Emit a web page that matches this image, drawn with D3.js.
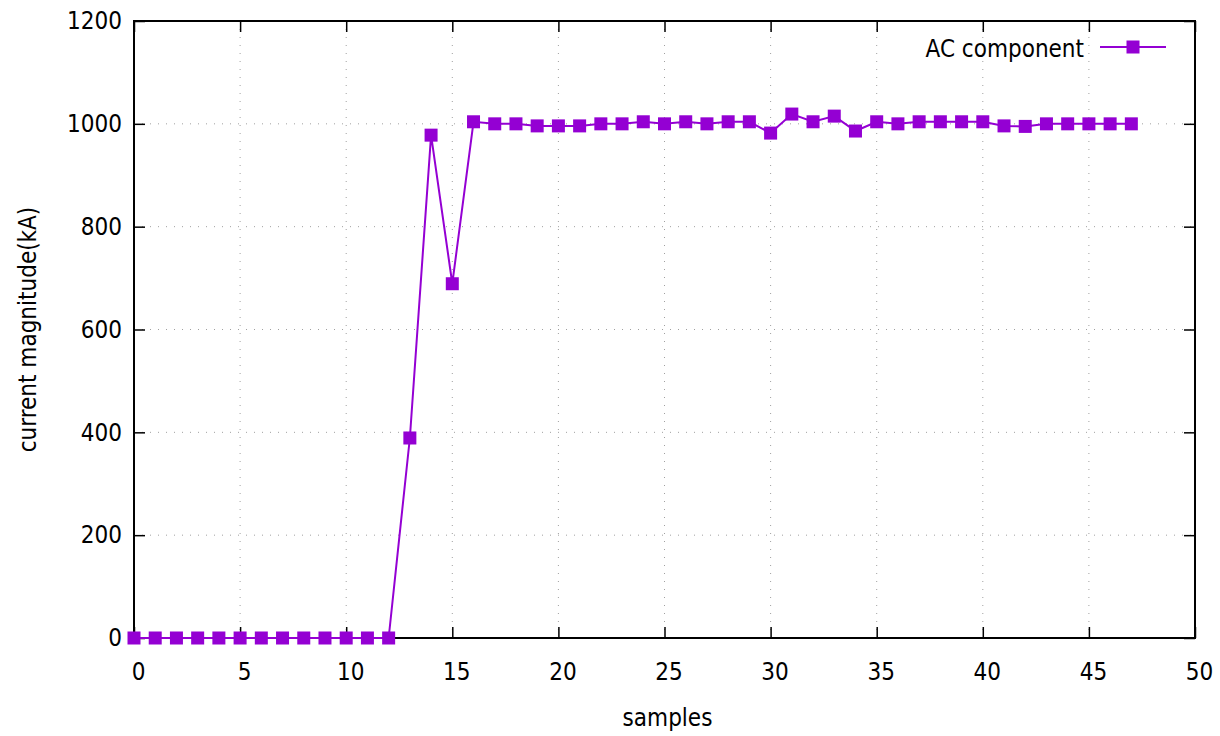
<!DOCTYPE html>
<html>
<head>
<meta charset="utf-8">
<script src="https://cdn.jsdelivr.net/npm/d3@7"></script>
<style>
  html, body { margin: 0; padding: 0; background: #fff; }
  svg { display: block; }
  text { font-family: "DejaVu Sans Condensed", "DejaVu Sans", sans-serif; fill: #000; }
</style>
</head>
<body>
<svg id="chart" width="1220" height="736"></svg>
<script>
// AC component magnitude per sample
const samples = d3.range(0, 48);
const acValues = [
  0, 0, 0, 0, 0, 0, 0, 0, 0, 0, 0, 0, 0,
  389, 978, 689, 1004,
  1000, 1000, 996, 996, 996, 1000, 1000, 1004, 1000, 1004, 1000, 1004, 1004,
  982, 1019, 1004, 1015, 986, 1004, 1000, 1004, 1004, 1004, 1004,
  996, 995, 1000, 1000, 1000, 1000, 1000
];
const xTicks = [0, 5, 10, 15, 20, 25, 30, 35, 40, 45, 50];
const yTicks = [0, 200, 400, 600, 800, 1000, 1200];
const seriesName = "AC component";
const xTitle = "samples";
const yTitle = "current magnitude(kA)";

const color = "#9400d3";
const fontSize = 24;
const svg = d3.select("#chart");
const m = { left: 134, right: 1195, top: 21, bottom: 638 };

const x = d3.scaleLinear().domain([0, 50]).range([m.left, m.right]);
const y = d3.scaleLinear().domain([0, 1200]).range([m.bottom, m.top]);

// dotted grid
const grid = svg.append("g").attr("stroke", "#a0a0a0").attr("stroke-width", 1)
  .attr("stroke-dasharray", "1,7");
xTicks.slice(1, -1).forEach(t => {
  grid.append("line").attr("x1", x(t)).attr("x2", x(t))
    .attr("y1", m.bottom).attr("y2", m.top);
});
yTicks.slice(1, -1).forEach(t => {
  grid.append("line").attr("x1", m.left).attr("x2", m.right)
    .attr("y1", y(t)).attr("y2", y(t));
});

// inward ticks on all four sides
const tickLen = 11;
const fmt = d3.format("d");
const axB = d3.axisBottom(x).tickValues(xTicks).tickFormat(fmt).tickSizeInner(-tickLen).tickSizeOuter(0).tickPadding(25);
const axT = d3.axisTop(x).tickValues(xTicks).tickSizeInner(-tickLen).tickSizeOuter(0).tickFormat("");
const axL = d3.axisLeft(y).tickValues(yTicks).tickFormat(fmt).tickSizeInner(-tickLen).tickSizeOuter(0).tickPadding(12);
const axR = d3.axisRight(y).tickValues(yTicks).tickSizeInner(-tickLen).tickSizeOuter(0).tickFormat("");

function styleAxis(g) {
  g.select(".domain").remove();
  g.selectAll(".tick line").attr("stroke", "#000").attr("stroke-width", 1.5);
  g.selectAll(".tick text").attr("font-size", fontSize)
    .style("font-family", '"DejaVu Sans Condensed", "DejaVu Sans", sans-serif');
}
svg.append("g").attr("transform", `translate(0,${m.bottom})`).call(axB).call(styleAxis)
  .selectAll(".tick text").attr("dx", 4);
svg.append("g").attr("transform", `translate(0,${m.top})`).call(axT).call(styleAxis);
svg.append("g").attr("transform", `translate(${m.left},0)`).call(axL).call(styleAxis);
svg.append("g").attr("transform", `translate(${m.right},0)`).call(axR).call(styleAxis);

// frame
svg.append("rect").attr("x", m.left).attr("y", m.top)
  .attr("width", m.right - m.left).attr("height", m.bottom - m.top)
  .attr("fill", "none").attr("stroke", "#000").attr("stroke-width", 2);

// series
const line = d3.line().x((d, i) => x(samples[i])).y(d => y(d));
svg.append("path").datum(acValues).attr("d", line)
  .attr("fill", "none").attr("stroke", color).attr("stroke-width", 2);

const sq = 13;
svg.append("g").selectAll("rect").data(acValues).join("rect")
  .attr("x", (d, i) => x(samples[i]) - sq / 2)
  .attr("y", d => y(d) - sq / 2)
  .attr("width", sq).attr("height", sq)
  .attr("fill", color);

// legend
const lg = svg.append("g");
lg.append("text").attr("x", 1084).attr("y", 57).attr("text-anchor", "end")
  .attr("font-size", fontSize).text(seriesName);
lg.append("line").attr("x1", 1100).attr("x2", 1166).attr("y1", 47).attr("y2", 47)
  .attr("stroke", color).attr("stroke-width", 2);
lg.append("rect").attr("x", 1133 - sq / 2).attr("y", 47 - sq / 2)
  .attr("width", sq).attr("height", sq).attr("fill", color);

// axis titles
svg.append("text").attr("x", (m.left + m.right) / 2 + 3).attr("y", 726)
  .attr("text-anchor", "middle").attr("font-size", fontSize).text(xTitle);
svg.append("text").attr("transform", `translate(36,${(m.top + m.bottom) / 2}) rotate(-90)`)
  .attr("text-anchor", "middle").attr("font-size", fontSize).text(yTitle);
</script>
</body>
</html>
